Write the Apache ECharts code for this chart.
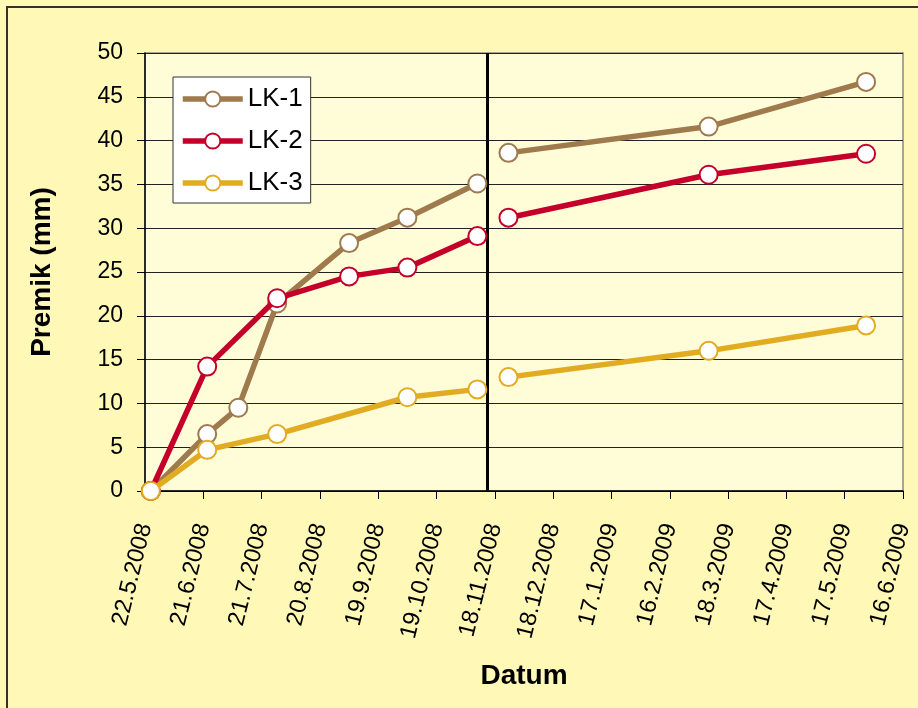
<!DOCTYPE html>
<html>
<head>
<meta charset="utf-8">
<script src="https://cdn.jsdelivr.net/npm/echarts@6/dist/echarts.min.js"></script>
<style>
  html, body { margin: 0; padding: 0; background: #FFF8B6; }
  #chart { width: 918px; height: 708px; }
</style>
</head>
<body>
<div id="chart"></div>
<script>
// Measurement dates and displacements (mm)
const lk1Dates = ['25.5.2008', '23.6.2008', '9.7.2008', '29.7.2008', '4.9.2008', '4.10.2008', '9.11.2008', '25.11.2008', '8.3.2009', '28.5.2009'];
const lk1Values = [0, 6.5, 9.5, 21.4, 28.3, 31.2, 35.1, 38.6, 41.6, 46.7];

const lk2Dates = ['25.5.2008', '23.6.2008', '29.7.2008', '4.9.2008', '4.10.2008', '9.11.2008', '25.11.2008', '8.3.2009', '28.5.2009'];
const lk2Values = [0, 14.2, 22.0, 24.5, 25.5, 29.1, 31.2, 36.1, 38.5];

const lk3Dates = ['25.5.2008', '23.6.2008', '29.7.2008', '4.10.2008', '9.11.2008', '25.11.2008', '8.3.2009', '28.5.2009'];
const lk3Values = [0, 4.7, 6.5, 10.7, 11.6, 13.0, 16.0, 18.9];

// Date axis tick labels (30-day steps)
const dateTicks = ['22.5.2008', '21.6.2008', '21.7.2008', '20.8.2008', '19.9.2008', '19.10.2008', '18.11.2008',
                   '18.12.2008', '17.1.2009', '16.2.2009', '18.3.2009', '17.4.2009', '17.5.2009', '16.6.2009'];
const tickStepDays = 30;

// Break between the two measurement campaigns
const breakDate = '14.11.2008';

const seriesNames = ['LK-1', 'LK-2', 'LK-3'];
const seriesColors = ['#9E7A4C', '#C4002A', '#E2AC22'];

function toUTC(s) {
  const [d, m, y] = s.split('.').map(Number);
  return Date.UTC(y, m - 1, d);
}
const baseTime = toUTC(dateTicks[0]);
function toDay(s) {
  return Math.round((toUTC(s) - baseTime) / 86400000);
}
const breakDay = toDay(breakDate);

// Build [day, value] pairs, inserting a gap where the series crosses the break
function buildPoints(dates, values) {
  const out = [];
  for (let i = 0; i < dates.length; i++) {
    const day = toDay(dates[i]);
    if (i > 0 && toDay(dates[i - 1]) < breakDay && day > breakDay) {
      out.push([breakDay, '-']);
    }
    out.push([day, values[i]]);
  }
  return out;
}

const seriesData = [
  buildPoints(lk1Dates, lk1Values),
  buildPoints(lk2Dates, lk2Values),
  buildPoints(lk3Dates, lk3Values)
];

const FONT = '"Liberation Sans", Arial, Helvetica, sans-serif';

const series = seriesNames.map((name, i) => ({
  name: name,
  type: 'line',
  data: seriesData[i],
  connectNulls: false,
  symbol: 'circle',
  symbolSize: 18,
  lineStyle: { color: seriesColors[i], width: 5.5 },
  itemStyle: { color: '#FFFFFF', borderColor: seriesColors[i], borderWidth: 2 },
  emphasis: { disabled: true },
  z: 3 + i
}));

// Vertical divider between the campaigns
series[0].markLine = {
  silent: true,
  symbol: 'none',
  label: { show: false },
  lineStyle: { color: '#000000', width: 3, type: 'solid' },
  data: [{ xAxis: breakDay }],
  z: 2
};

const chart = echarts.init(document.getElementById('chart'), null, { renderer: 'canvas' });

chart.setOption({
  animation: false,
  backgroundColor: '#FFF8B6',
  textStyle: { fontFamily: FONT, color: '#000' },
  grid: {
    left: 145, right: 15, top: 53, bottom: 217,
    show: true,
    backgroundColor: '#FFFCD8',
    borderColor: '#8A8A8A',
    borderWidth: 1.5
  },
  legend: {
    orient: 'vertical',
    left: 173,
    top: 77,
    padding: [9, 8, 7, 7],
    itemWidth: 60,
    itemHeight: 19,
    itemGap: 16,
    itemTextGap: 5,
    backgroundColor: '#FFFFFF',
    borderColor: '#333333',
    borderWidth: 1,
    borderRadius: 0,
    lineStyle: { width: 5.5 },
    textStyle: { fontFamily: FONT, fontSize: 26, lineHeight: 26, color: '#000' },
    data: seriesNames
  },
  xAxis: {
    type: 'value',
    min: 0,
    max: (dateTicks.length - 1) * tickStepDays,
    interval: tickStepDays,
    axisLine: { show: true, onZero: false, lineStyle: { color: '#000', width: 1.5 } },
    axisTick: { show: true, inside: false, length: 8, lineStyle: { color: '#000', width: 1 } },
    splitLine: { show: false },
    axisLabel: {
      rotate: 76,
      margin: 33,
      fontFamily: FONT,
      fontSize: 23.5,
      color: '#000',
      showMinLabel: true,
      showMaxLabel: true,
      formatter: v => dateTicks[Math.round(v / tickStepDays)] || ''
    }
  },
  yAxis: {
    type: 'value',
    min: 0,
    max: 50,
    interval: 5,
    axisLine: { show: true, lineStyle: { color: '#000', width: 1.5 } },
    axisTick: { show: true, inside: false, length: 8, lineStyle: { color: '#000', width: 1 } },
    splitLine: { show: true, lineStyle: { color: '#222', width: 1 } },
    axisLabel: { margin: 22, fontFamily: FONT, fontSize: 23, color: '#000' }
  },
  graphic: [
    {
      type: 'rect',
      shape: { x: 7, y: 7, width: 1000, height: 1000 },
      style: { fill: 'none', stroke: '#333326', lineWidth: 2 },
      silent: true,
      z: 100
    },
    {
      type: 'text',
      x: 42, y: 272,
      rotation: Math.PI / 2,
      style: {
        text: 'Premik (mm)',
        fontFamily: FONT, fontSize: 28, fontWeight: 'bold', fill: '#000',
        align: 'center', verticalAlign: 'middle'
      }
    },
    {
      type: 'text',
      x: 524, y: 676,
      style: {
        text: 'Datum',
        fontFamily: FONT, fontSize: 28, fontWeight: 'bold', fill: '#000',
        align: 'center', verticalAlign: 'middle'
      }
    }
  ],
  series: series
});
</script>
</body>
</html>
